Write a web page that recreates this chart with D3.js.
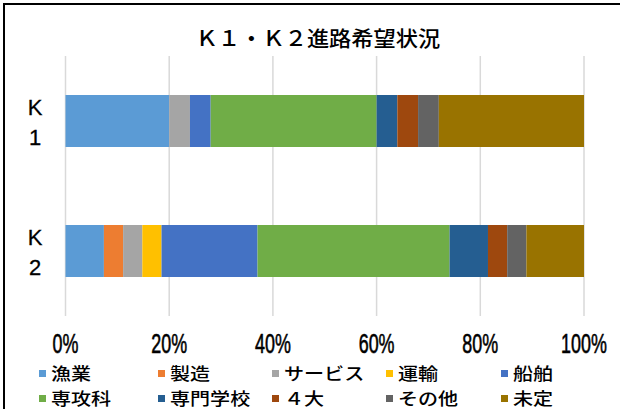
<!DOCTYPE html>
<html><head><meta charset="utf-8">
<script src="https://cdn.jsdelivr.net/npm/d3@7"></script>
<style>body{margin:0;background:#fff}svg{display:block}</style>
</head><body>
<script>
const categories = ["K1", "K2"];
const categoryLines = [["K","1"],["K","2"]];
const seriesNames = ["漁業","製造","サービス","運輸","船舶","専攻科","専門学校","４大","その他","未定"];
const seriesColors = ["#5B9BD5","#ED7D31","#A5A5A5","#FFC000","#4472C4","#70AD47","#255E91","#9E480E","#636363","#997300"];
// counts per class (stacked to 100%)
const k1Values = [5,0,1,0,1,8,1,1,1,7];
const k2Values = [2,1,1,1,5,10,2,1,1,3];
const tickValues = [0,0.2,0.4,0.6,0.8,1];
const tickLabels = ["0%","20%","40%","60%","80%","100%"];
const title = "Ｋ１・Ｋ２進路希望状況";

const W=620,H=409;
const svg=d3.select("body").append("svg").attr("width",W).attr("height",H);
svg.append("rect").attr("width",W).attr("height",H).attr("fill","#fff");
svg.append("rect").attr("x",4).attr("y",4).attr("width",W+10).attr("height",H+10)
  .attr("fill","none").attr("stroke","#000").attr("stroke-width",2);

const rows = categories.map((c,i)=>{const o={cat:c};const v=[k1Values,k2Values][i];seriesNames.forEach((s,j)=>o[s]=v[j]);return o;});
const stack=d3.stack().keys(seriesNames).offset(d3.stackOffsetExpand)(rows);

const x=d3.scaleLinear().domain([0,1]).range([65.5,584]);
const y=d3.scaleBand().domain(categories).range([56,316]).paddingInner(0.6).paddingOuter(0.3);

// grid
svg.append("g").selectAll("line").data(tickValues).join("line")
  .attr("x1",d=>x(d)).attr("x2",d=>x(d)).attr("y1",56).attr("y2",316)
  .attr("stroke","#d9d9d9").attr("stroke-width",1.5);

svg.append("text").attr("transform","translate(318,46) scale(1.06,1)").attr("text-anchor","middle")
  .attr("font-family","'Noto Sans CJK JP'").attr("font-weight",500).attr("font-size",21).attr("fill","#000").text(title);

// bars
svg.append("g").selectAll("g").data(stack).join("g").attr("fill",(d,i)=>seriesColors[i])
  .selectAll("rect").data(d=>d).join("rect")
  .attr("x",d=>x(d[0])).attr("width",d=>x(d[1])-x(d[0]))
  .attr("y",d=>y(d.data.cat)).attr("height",y.bandwidth());

// category labels
categories.forEach((c,i)=>{
  const cy=y(c)+y.bandwidth()/2;
  categoryLines[i].forEach((t,k)=>{
    svg.append("text").attr("x",35).attr("y",cy+(k===0?-14:16)).attr("dy","0.36em")
      .attr("text-anchor","middle").attr("font-family","'Liberation Sans',Arial,sans-serif")
      .attr("font-size",22).attr("fill","#000").attr("stroke","#000").attr("stroke-width",0.3).text(t);
  });
});

// x axis labels
const ax=svg.append("g");
ax.selectAll("text").data(tickValues).join("text")
  .attr("transform",(d)=>`translate(${x(d)},353) scale(0.64,1)`)
  .attr("text-anchor","middle").attr("font-family","'Liberation Sans',Arial,sans-serif")
  .attr("font-size",28).attr("fill","#000").attr("stroke","#000").attr("stroke-width",0.6).text((d,i)=>tickLabels[i]);

// legend
const colX=[39,158,272,386,501];
const rowY=[373.5,398.5];
const lg=svg.append("g").selectAll("g").data(seriesNames).join("g")
  .attr("transform",(d,i)=>`translate(${colX[i%5]},${rowY[Math.floor(i/5)]})`);
lg.append("rect").attr("x",0).attr("y",-3.5).attr("width",7).attr("height",7).attr("fill",(d,i)=>seriesColors[i]);
lg.append("text").attr("transform","translate(12,0) scale(1.18,1)").attr("dy","0.36em")
  .attr("font-family","'Noto Sans CJK JP'").attr("font-weight",500).attr("font-size",17).attr("fill","#000").text(d=>d);
</script>
</body></html>
